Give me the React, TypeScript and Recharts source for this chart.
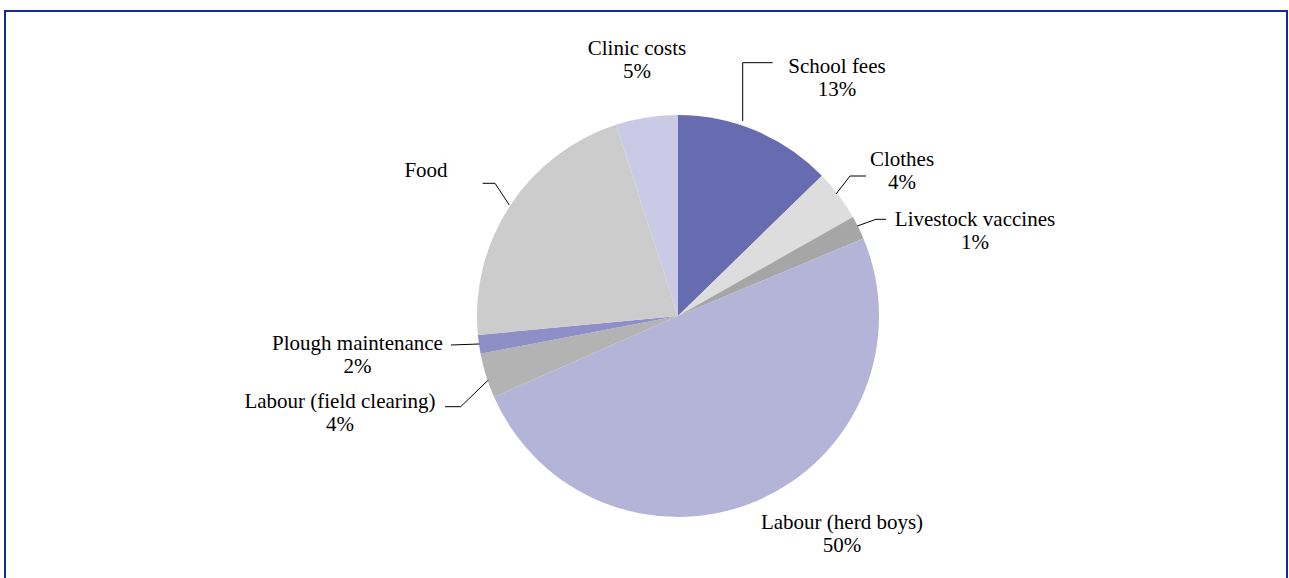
import React from "react";
import { PieChart, Pie, Cell } from "recharts";

const categories = [
  "School fees",
  "Clothes",
  "Livestock vaccines",
  "Labour (herd boys)",
  "Labour (field clearing)",
  "Plough maintenance",
  "Food",
  "Clinic costs",
];
const shares = [12.7, 4.1, 1.9, 49.7, 3.6, 1.5, 21.5, 5.0];
const percentLabels = ["13%", "4%", "1%", "50%", "4%", "2%", "", "5%"];
const colors = [
  "#676BAF",
  "#DDDDDD",
  "#A6A6A6",
  "#B4B4D8",
  "#B3B3B3",
  "#8F8FC8",
  "#CCCCCC",
  "#CACAE6",
];

// label layout: offsets from pie centre (leader polyline + text anchor)
const labelLayout: { pts: [number, number][]; tx: number; ty: number }[] = [
  { pts: [[64.7, -195], [64.7, -253.3], [94.7, -253.3]], tx: 159, ty: -243 },
  { pts: [[158, -122], [172, -140], [188, -140]], tx: 224, ty: -150 },
  { pts: [[179.3, -90], [198, -96.7], [208, -96.7]], tx: 297, ty: -90 },
  { pts: [], tx: 164, ty: 213 },
  { pts: [[-189.7, 64], [-217.3, 90.7], [-233, 90.7]], tx: -338, ty: 92 },
  { pts: [[-198.7, 28], [-227, 29]], tx: -320.5, ty: 34 },
  { pts: [[-168.7, -111], [-183, -132.7], [-195.3, -132.7]], tx: -252, ty: -139 },
  { pts: [], tx: -41, ty: -261 },
];

const data = categories.map((name, i) => ({ name, value: shares[i], pct: percentLabels[i] }));

const FONT = '"Liberation Serif", "Times New Roman", Times, "DejaVu Serif", serif';
const LINE = 23;

const renderLabel = (props: any) => {
  const { cx, cy, index } = props;
  const lay = labelLayout[index];
  const item = data[index];
  const pts = lay.pts.map(([dx, dy]) => `${cx + dx},${cy + dy}`).join(" ");
  return (
    <g key={`lbl-${index}`}>
      {lay.pts.length > 0 && (
        <polyline points={pts} fill="none" stroke="#000" strokeWidth={1} />
      )}
      <text
        x={cx + lay.tx}
        y={cy + lay.ty}
        textAnchor="middle"
        style={{ fontFamily: FONT, fontSize: 21, fill: "#000" }}
      >
        <tspan x={cx + lay.tx} dy={0}>{item.name}</tspan>
        {item.pct && (
          <tspan x={cx + lay.tx} dy={LINE}>{item.pct}</tspan>
        )}
      </text>
    </g>
  );
};

export default function App() {
  return (
    <div
      style={{
        position: "fixed",
        left: 0,
        top: 0,
        width: 1289,
        height: 578,
        overflow: "hidden",
        background: "#fff",
      }}
    >
      <div
        style={{
          position: "absolute",
          left: 4,
          top: 10,
          width: 1280,
          height: 620,
          border: "2px solid #122B97",
          boxSizing: "content-box",
        }}
      />
      <div style={{ position: "absolute", left: 0, top: 0 }}>
        <PieChart width={1289} height={578} margin={{ top: 0, right: 0, bottom: 0, left: 0 }}>
          <Pie
            data={data}
            dataKey="value"
            nameKey="name"
            cx={678}
            cy={316}
            outerRadius={201}
            startAngle={90}
            endAngle={-270}
            stroke="none"
            isAnimationActive={false}
            labelLine={false}
            label={renderLabel}
          >
            {data.map((d, i) => (
              <Cell key={d.name} fill={colors[i]} />
            ))}
          </Pie>
        </PieChart>
      </div>
    </div>
  );
}
